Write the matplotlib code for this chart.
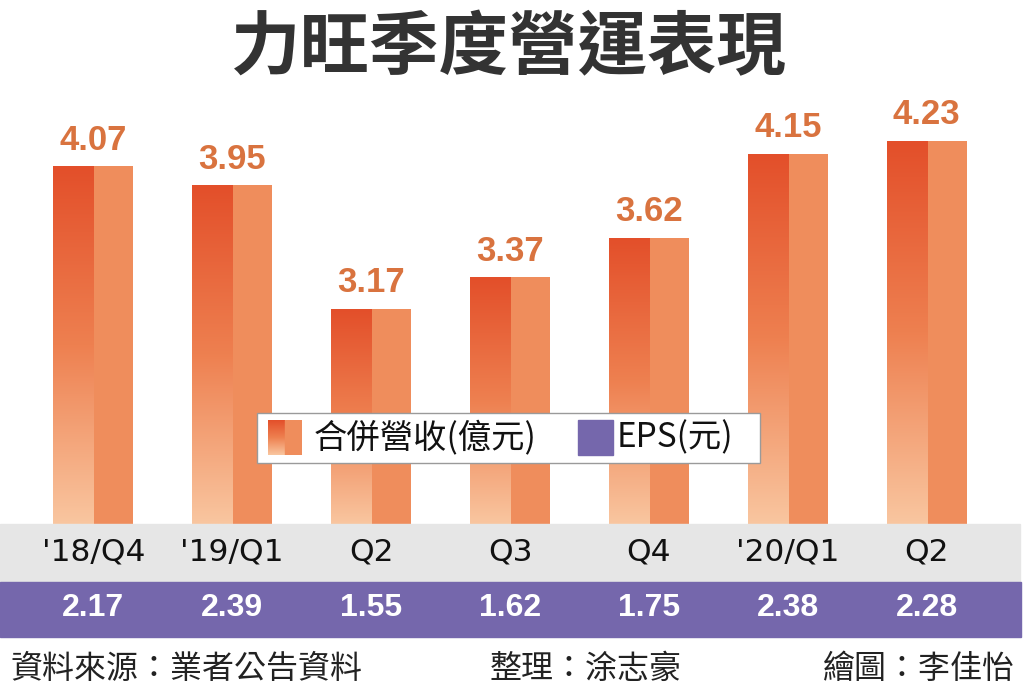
import numpy as np
import matplotlib.pyplot as plt
import matplotlib.transforms as mtransforms
from matplotlib.colors import LinearSegmentedColormap
from matplotlib.patches import Rectangle

plt.rcParams['font.family'] = ['Noto Sans CJK TC', 'DejaVu Sans']

title = '力旺季度營運表現'
quarters = ["'18/Q4", "'19/Q1", 'Q2', 'Q3', 'Q4', "'20/Q1", 'Q2']
revenue = [4.07, 3.95, 3.17, 3.37, 3.62, 4.15, 4.23]
eps = [2.17, 2.39, 1.55, 1.62, 1.75, 2.38, 2.28]
legend_labels = ['合併營收(億元)', 'EPS(元)']
footer_left = '資料來源：業者公告資料'
footer_mid = '整理：涂志豪'
footer_right = '繪圖：李佳怡'

W, H = 1024, 696
fig = plt.figure(figsize=(W / 100, H / 100), dpi=100)
fig.patch.set_facecolor('white')


def fy(py):
    # pixel row -> figure fraction
    return 1 - py / H


ax = fig.add_axes([0, fy(524), 1, fy(96) - fy(524)])
ybase = 1.814
ax.set_xlim(-0.672, 6.70)
ax.set_ylim(ybase, 4.514)
ax.axis('off')

cmap = LinearSegmentedColormap.from_list('bar', ['#f9c6a0', '#ee8050', '#e34f2a'])
grad = np.linspace(0, 1, 256).reshape(-1, 1)
half = 0.288
x = np.arange(len(quarters))

for xi, v in zip(x, revenue):
    ax.bar(xi + half / 2, v - ybase, width=half, bottom=ybase,
           color='#ef8d5c', linewidth=0)
    left = ax.bar(xi - half / 2, v - ybase, width=half, bottom=ybase,
                  color='none', linewidth=0)[0]
    im = ax.imshow(grad, extent=[xi - half, xi, ybase, v], origin='lower',
                   aspect='auto', cmap=cmap, zorder=2)
    im.set_clip_path(left)
    ax.annotate(f'{v:.2f}', (xi, v), xytext=(0, 12), textcoords='offset points',
                ha='center', va='baseline', fontsize=25, fontweight='bold',
                color='#d9733f', family='Liberation Sans')

ax.set_xlim(-0.672, 6.70)
ax.set_ylim(ybase, 4.514)

# bands under the bars
fig.patches.append(Rectangle((0, fy(582)), 1020 / W, fy(524) - fy(582),
                             transform=fig.transFigure, color='#e6e6e6', zorder=0))
fig.patches.append(Rectangle((0, fy(637)), 1021 / W, fy(582) - fy(637),
                             transform=fig.transFigure, color='#7567ac', zorder=0))

trans = mtransforms.blended_transform_factory(ax.transData, fig.transFigure)
for xi, q, e in zip(x, quarters, eps):
    fig.text(xi, fy(552), q, transform=trans, ha='center', va='center',
             fontsize=22.5, color='#111111', family='DejaVu Sans')
    fig.text(xi, fy(608), f'{e:.2f}', transform=trans, ha='center', va='center',
             fontsize=23, fontweight='bold', color='white', family='Liberation Sans')

# legend box
fig.patches.append(Rectangle((257 / W, fy(463)), (760 - 257) / W, fy(413) - fy(463),
                             transform=fig.transFigure, facecolor='white',
                             edgecolor='#9a9a9a', linewidth=1, zorder=3))
lax = fig.add_axes([268 / W, fy(455), (302 - 268) / W, fy(420) - fy(455)], zorder=4)
lax.imshow(grad, extent=[0, 0.5, 0, 1], origin='lower', aspect='auto', cmap=cmap)
lax.add_patch(Rectangle((0.5, 0), 0.5, 1, color='#ef8d5c'))
lax.set_xlim(0, 1)
lax.set_ylim(0, 1)
lax.axis('off')
fig.patches.append(Rectangle((578 / W, fy(455)), (613 - 578) / W, fy(420) - fy(455),
                             transform=fig.transFigure, color='#7567ac', zorder=4))
fig.text(314 / W, fy(438), legend_labels[0], ha='left', va='center',
         fontsize=24, color='#111111', zorder=5)
fig.text(617 / W, fy(438), legend_labels[1], ha='left', va='center',
         fontsize=24, color='#111111', zorder=5)

fig.text(509 / W, fy(49), title, ha='center', va='center', fontsize=50,
         fontweight='bold', color='#333333')

fig.text(10 / W, fy(669), footer_left, ha='left', va='center', fontsize=23, color='#222222')
fig.text(490 / W, fy(669), footer_mid, ha='left', va='center', fontsize=23, color='#222222')
fig.text(1015 / W, fy(669), footer_right, ha='right', va='center', fontsize=23, color='#222222')

fig.savefig('out.png', dpi=100)
